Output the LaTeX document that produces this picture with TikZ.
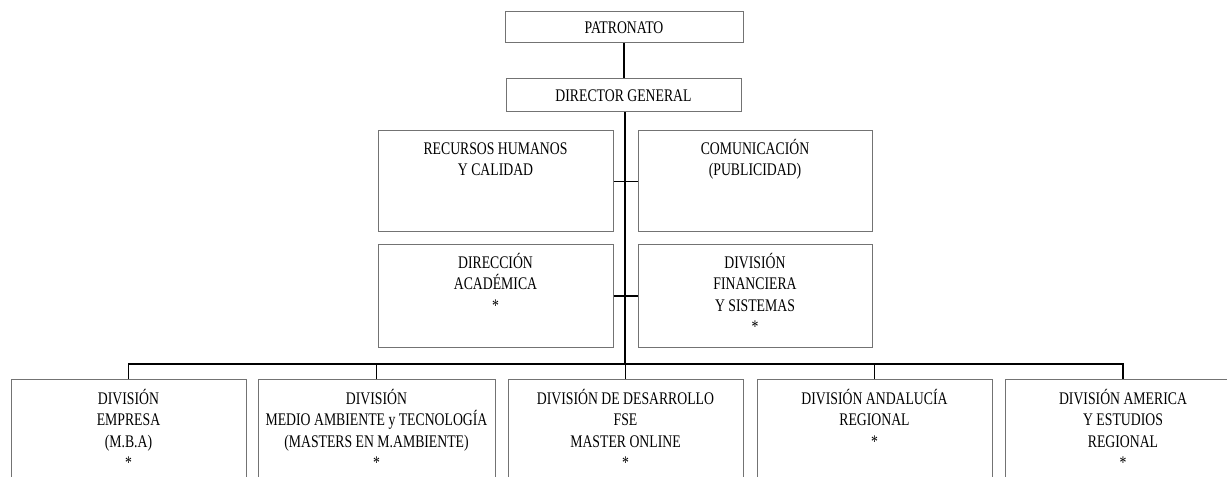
\documentclass[tikz,border=0pt]{standalone}
\usepackage{fontspec}
\setmainfont[FakeStretch=0.775]{Liberation Serif}
\newcommand{\orgfont}{\fontsize{13.3pt}{16.1pt}\selectfont}
\newcommand{\fs}{\rule{0pt}{12.5pt}}
\begin{document}
\begin{tikzpicture}[x=0.75pt,y=-0.75pt,
  box/.style={draw=black!55, line width=0.75pt, fill=white, inner sep=0pt, rectangle},
  lbl/.style={anchor=north, inner sep=0pt, align=center, font=\orgfont},
  conn/.style={draw=black, line width=0.8pt}]
\useasboundingbox (0,0) rectangle (1227,477);
\clip (0,0) rectangle (1227,477);
\fill[white] (0,0) rectangle (1227,477);
% boxes
\node[box, minimum width=178.5pt, minimum height=23.25pt] (P) at (624,27.5) {};
\node[box, minimum width=176.25pt, minimum height=24.75pt] (DG) at (623.5,95.5) {};
\node[box, minimum width=176.25pt, minimum height=75.75pt] (RH) at (495.5,181.5) {};
\node[box, minimum width=175.5pt, minimum height=75.75pt] (COM) at (755,181.5) {};
\node[box, minimum width=176.25pt, minimum height=76.5pt] (DIR) at (495.5,296) {};
\node[box, minimum width=175.5pt, minimum height=76.5pt] (FIN) at (755,296) {};
\node[box, minimum width=176.25pt, minimum height=90.75pt] (b1) at (128.5,439.5) {};
\node[box, minimum width=177.75pt, minimum height=90.75pt] (b2) at (376.5,439.5) {};
\node[box, minimum width=176.25pt, minimum height=90.75pt] (b3) at (625.5,439.5) {};
\node[box, minimum width=176.25pt, minimum height=90.75pt] (b4) at (874.5,439.5) {};
\node[box, minimum width=177pt, minimum height=90.75pt] (b5) at (1123,439.5) {};
% texts
\node[lbl] (tP) at (624,16.65) {\fs PATRONATO};
\node[lbl] (tDG) at (623.5,84.65) {\fs DIRECTOR GENERAL};
\node[lbl] (tRH) at (495.5,137.15) {\fs RECURSOS HUMANOS\\Y CALIDAD};
\node[lbl] (tCOM) at (755,137.15) {\fs COMUNICACIÓN\\(PUBLICIDAD)};
\node[lbl] (tDIR) at (495.5,251.15) {\fs DIRECCIÓN\\ACADÉMICA\\*};
\node[lbl] (tFIN) at (755,251.15) {\fs DIVISIÓN\\FINANCIERA\\Y SISTEMAS\\*};
\node[lbl] (t1) at (128.5,387.15) {\fs DIVISIÓN\\EMPRESA\\(M.B.A)\\*};
\node[lbl] (t2) at (376.5,387.15) {\fs DIVISIÓN\\MEDIO AMBIENTE y TECNOLOGÍA\\(MASTERS EN M.AMBIENTE)\\*};
\node[lbl] (t3) at (625.5,387.15) {\fs DIVISIÓN DE DESARROLLO\\FSE\\MASTER ONLINE\\*};
\node[lbl] (t4) at (874.5,387.15) {\fs DIVISIÓN ANDALUCÍA\\REGIONAL\\*};
\node[lbl] (t5) at (1123,387.15) {\fs DIVISIÓN AMERICA\\Y ESTUDIOS\\REGIONAL\\*};
% connectors
\coordinate (bus) at (625,364);
\draw[conn] (P.south) -- (P.south |- DG.north);
\draw[conn] (DG.south -| bus) -- (bus);
\draw[conn] (RH.east) -- (COM.west);
\draw[conn] (DIR.east) -- (FIN.west);
\draw[conn] (b1.north) -- (b1.north |- bus) -- (b5.north |- bus) -- (b5.north);
\draw[conn] (b2.north) -- (b2.north |- bus);
\draw[conn] (b3.north) -- (b3.north |- bus);
\draw[conn] (b4.north) -- (b4.north |- bus);
\end{tikzpicture}
\end{document}
